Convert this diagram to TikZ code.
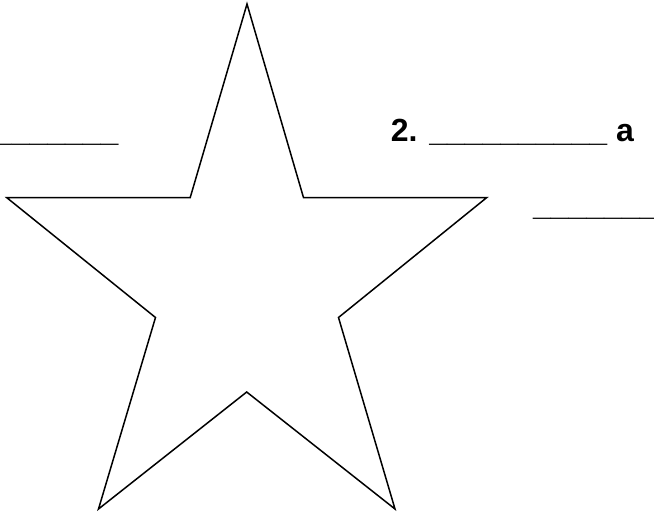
\documentclass[tikz,border=0pt]{standalone}
\usepackage{fontspec}
\setmainfont{Liberation Sans}

\begin{document}
\begin{tikzpicture}[x=1pt, y=-1pt, line width=1.5pt,
  blank/.style={font=\fontsize{32}{38}\selectfont\bfseries, inner sep=0pt}]
  \useasboundingbox (0,0) rectangle (654,512);
  \clip (0,0) rectangle (654,512);
  % star
  \draw (247,4) -- (303.5,197.6) -- (486.7,197.6) -- (338.5,317.5)
    -- (395,509) -- (246.7,392) -- (98.5,509) -- (155.5,317.5)
    -- (6.7,197.6) -- (190.2,197.6) -- cycle;
  % blanks
  \node[blank, anchor=base east] (leftblank) at (119.3,141) {\_\_\_\_\_\_\_\_};
  \node[blank, anchor=base west] (item) at (390,141) {2. \_\_\_\_\_\_\_\_\_\_ a};
  \node[blank, anchor=base west] (rightblank) at (532.3,215.3) {\_\_\_\_\_\_\_\_};
\end{tikzpicture}
\end{document}
